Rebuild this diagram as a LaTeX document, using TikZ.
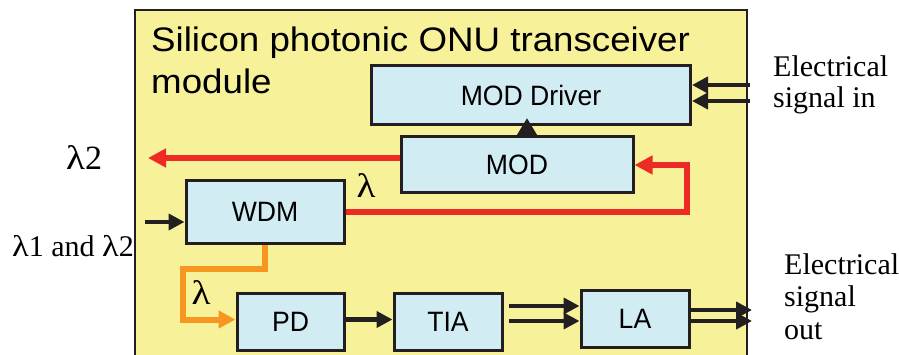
\documentclass[tikz,border=0pt]{standalone}
\usepackage{fontspec}
\setmainfont{Liberation Serif}
\newfontfamily\sansf{Liberation Sans}
\newfontfamily\sanswide[FakeStretch=1.08]{Liberation Sans}
\newfontfamily\sansnarrow[FakeStretch=0.95]{Liberation Sans}
\usetikzlibrary{arrows.meta}
\definecolor{bgyellow}{HTML}{F7F29A}
\definecolor{boxblue}{HTML}{D1ECF2}
\definecolor{sigred}{HTML}{EE2A24}
\definecolor{sigorange}{HTML}{F7971F}
\definecolor{edge}{HTML}{231F20}
\newcommand\lam{\scalebox{1.15}[1]{λ}}
\begin{document}
\begin{tikzpicture}[x=1pt,y=-1pt,
  blk/.style={draw=edge, line width=3pt, fill=boxblue, inner sep=0pt,
    font=\sansnarrow\fontsize{28}{32}\selectfont},
  sig/.style={draw=edge, line width=4.5pt, line join=miter,
    -{Triangle[length=16pt,width=16pt]}},
  redsig/.style={draw=sigred, line width=6pt, line join=miter,
    -{Triangle[length=18pt,width=18pt]}},
  orsig/.style={draw=sigorange, line width=6pt, line join=miter,
    -{Triangle[length=17pt,width=17pt]}},
  lbl/.style={inner sep=0pt, font=\fontsize{30}{34}\selectfont},
  lamlbl/.style={inner sep=0pt, font=\fontsize{34}{38}\selectfont},
  ttl/.style={inner sep=0pt, font=\sanswide\fontsize{34}{40}\selectfont}]
\clip (0,0) rectangle (899,355);
\fill[white] (0,0) rectangle (899,355);
\draw[draw=edge, fill=bgyellow, line width=2.5pt] (135,10) rectangle (747,372);

\node[ttl, anchor=base west] (t1) at (151,52) {Silicon photonic ONU transceiver};
\node[ttl, anchor=base west] (t2) at (151,94) {module};

\node[blk, minimum width=319pt, minimum height=59pt] (drv) at (531,95.5) {MOD Driver};
\node[blk, minimum width=232pt, minimum height=56pt] (mod) at (517,165) {MOD};
\node[blk, minimum width=158pt, minimum height=63pt] (wdm) at (265,212) {WDM};
\node[blk, minimum width=107pt, minimum height=57pt] (pd) at (290.5,321.5) {PD};
\node[blk, minimum width=108pt, minimum height=57pt] (tia) at (448,321.5) {TIA};
\node[blk, minimum width=108pt, minimum height=57pt] (la) at (635,318.5) {LA};

% outside labels
\node[lbl, anchor=base west] (ein1) at (773,77) {Electrical};
\node[lbl, anchor=base west] (ein2) at (773,108) {signal in};
\node[lbl, anchor=base west] (eo1) at (784,274) {Electrical};
\node[lbl, anchor=base west] (eo2) at (784,306) {signal};
\node[lbl, anchor=base west] (eo3) at (784,339) {out};
\node[lamlbl, anchor=base west] (l2) at (66,170) {\lam2};
\node[lbl, anchor=base west] (l12) at (12,257) {\lam1 and \lam2};
\node[lamlbl, anchor=base] (lr) at (366,198) {\lam};
\node[lamlbl, anchor=base] (lo) at (201,305) {\lam};

% coordinates
\coordinate (in1) at (750,85);
\coordinate (in2) at (750,101);
\coordinate (drvtip) at (527,118);
\coordinate (redend) at (148,158);
\coordinate (rc) at (687,0);
\coordinate (wdmin) at (145,222);
\coordinate (oc) at (183,269);
\coordinate (ta) at (509,306);
\coordinate (tb) at (509,321);
\coordinate (oa) at (691,310);
\coordinate (ob) at (691,321);
\coordinate (oa2) at (752,310);
\coordinate (ob2) at (752,321);

% connectors
\draw[sig] (in1) -- (in1 -| drv.east);
\draw[sig] (in2) -- (in2 -| drv.east);
\draw[sig, shorten <=-1.5pt, -{Triangle[length=18pt,width=20pt]}] (mod.north -| drvtip) -- (drvtip);
\draw[redsig] (mod.west |- redend) -- (redend);
\draw[redsig] (wdm.east) -- (wdm.east -| rc) |- (mod.east);
\draw[sig] (wdmin) -- (wdmin -| wdm.west);
\draw[orsig] (wdm.south) |- (oc) |- ([yshift=2pt]pd.west);
\draw[sig] ([yshift=2pt]pd.east) -- ([yshift=2pt]pd.east -| tia.west);
\draw[sig] (ta) -- (ta -| la.west);
\draw[sig] (tb) -- (tb -| la.west);
\draw[sig] (oa) -- (oa2);
\draw[sig] (ob) -- (ob2);
\end{tikzpicture}
\end{document}
